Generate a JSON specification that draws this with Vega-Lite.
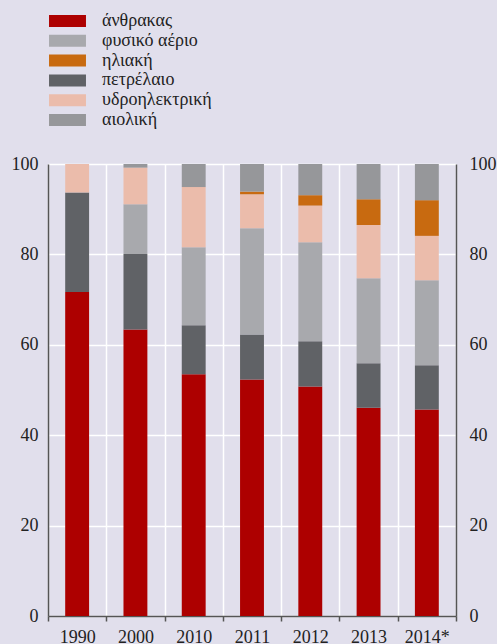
{
  "$schema": "https://vega.github.io/schema/vega-lite/v6.json",
  "width": 408,
  "height": 452,
  "autosize": {"type": "none"},
  "padding": {"left": 48, "top": 164, "right": 41, "bottom": 28},
  "background": "#e1dfec",
  "config": {"view": {"stroke": null}, "font": "Liberation Serif", "legend": {"labelFont": "Liberation Serif"}, "axis": {"labelFont": "Liberation Serif"}},
  "data": {
    "values": [
      {"year": "1990", "source": "άνθρακας", "ord": 1, "value": 71.7},
      {"year": "1990", "source": "πετρέλαιο", "ord": 2, "value": 22.0},
      {"year": "1990", "source": "φυσικό αέριο", "ord": 3, "value": 0},
      {"year": "1990", "source": "υδροηλεκτρική", "ord": 4, "value": 6.3},
      {"year": "1990", "source": "ηλιακή", "ord": 5, "value": 0},
      {"year": "1990", "source": "αιολική", "ord": 6, "value": 0},
      {"year": "2000", "source": "άνθρακας", "ord": 1, "value": 63.4},
      {"year": "2000", "source": "πετρέλαιο", "ord": 2, "value": 16.7},
      {"year": "2000", "source": "φυσικό αέριο", "ord": 3, "value": 11.0},
      {"year": "2000", "source": "υδροηλεκτρική", "ord": 4, "value": 8.1},
      {"year": "2000", "source": "ηλιακή", "ord": 5, "value": 0},
      {"year": "2000", "source": "αιολική", "ord": 6, "value": 0.8},
      {"year": "2010", "source": "άνθρακας", "ord": 1, "value": 53.5},
      {"year": "2010", "source": "πετρέλαιο", "ord": 2, "value": 10.8},
      {"year": "2010", "source": "φυσικό αέριο", "ord": 3, "value": 17.3},
      {"year": "2010", "source": "υδροηλεκτρική", "ord": 4, "value": 13.3},
      {"year": "2010", "source": "ηλιακή", "ord": 5, "value": 0},
      {"year": "2010", "source": "αιολική", "ord": 6, "value": 5.1},
      {"year": "2011", "source": "άνθρακας", "ord": 1, "value": 52.3},
      {"year": "2011", "source": "πετρέλαιο", "ord": 2, "value": 10.0},
      {"year": "2011", "source": "φυσικό αέριο", "ord": 3, "value": 23.5},
      {"year": "2011", "source": "υδροηλεκτρική", "ord": 4, "value": 7.5},
      {"year": "2011", "source": "ηλιακή", "ord": 5, "value": 0.6},
      {"year": "2011", "source": "αιολική", "ord": 6, "value": 6.1},
      {"year": "2012", "source": "άνθρακας", "ord": 1, "value": 50.8},
      {"year": "2012", "source": "πετρέλαιο", "ord": 2, "value": 10.0},
      {"year": "2012", "source": "φυσικό αέριο", "ord": 3, "value": 21.9},
      {"year": "2012", "source": "υδροηλεκτρική", "ord": 4, "value": 8.1},
      {"year": "2012", "source": "ηλιακή", "ord": 5, "value": 2.3},
      {"year": "2012", "source": "αιολική", "ord": 6, "value": 6.9},
      {"year": "2013", "source": "άνθρακας", "ord": 1, "value": 46.1},
      {"year": "2013", "source": "πετρέλαιο", "ord": 2, "value": 9.8},
      {"year": "2013", "source": "φυσικό αέριο", "ord": 3, "value": 18.8},
      {"year": "2013", "source": "υδροηλεκτρική", "ord": 4, "value": 11.8},
      {"year": "2013", "source": "ηλιακή", "ord": 5, "value": 5.7},
      {"year": "2013", "source": "αιολική", "ord": 6, "value": 7.8},
      {"year": "2014*", "source": "άνθρακας", "ord": 1, "value": 45.7},
      {"year": "2014*", "source": "πετρέλαιο", "ord": 2, "value": 9.8},
      {"year": "2014*", "source": "φυσικό αέριο", "ord": 3, "value": 18.8},
      {"year": "2014*", "source": "υδροηλεκτρική", "ord": 4, "value": 9.8},
      {"year": "2014*", "source": "ηλιακή", "ord": 5, "value": 7.9},
      {"year": "2014*", "source": "αιολική", "ord": 6, "value": 8.0}
    ]
  },
  "layer": [
    {
      "mark": {"type": "bar", "width": {"band": 0.41}},
      "encoding": {
        "x": {
          "field": "year",
          "type": "ordinal",
          "sort": null,
          "scale": {"paddingInner": 0, "paddingOuter": 0},
          "axis": {
            "title": null,
            "labelAngle": 0,
            "labelFontSize": 18,
            "labelColor": "#222",
            "labelPadding": 7,
            "tickBand": "extent",
            "tickSize": 5,
            "tickColor": "#555",
            "tickWidth": 1.5,
            "domainColor": "#555",
            "domainWidth": 1.5,
            "grid": true,
            "gridColor": "#ffffff",
            "gridWidth": 1.5,
            "gridOpacity": 1
          }
        },
        "y": {
          "field": "value",
          "type": "quantitative",
          "stack": "zero",
          "scale": {"domain": [0, 100], "nice": false},
          "axis": {
            "title": null,
            "orient": "left",
            "values": [0, 20, 40, 60, 80, 100],
            "labelFontSize": 18,
            "labelColor": "#222",
            "labelPadding": 10,
            "tickSize": 0,
            "domainColor": "#555",
            "domainWidth": 1.5,
            "grid": true,
            "gridColor": "#ffffff",
            "gridWidth": 1.5,
            "gridOpacity": 1
          }
        },
        "color": {
          "field": "source",
          "type": "nominal",
          "scale": {
            "domain": ["άνθρακας", "φυσικό αέριο", "ηλιακή", "πετρέλαιο", "υδροηλεκτρική", "αιολική"],
            "range": ["#ad0000", "#a8a9ad", "#c86a10", "#606266", "#ebbcab", "#96979a"]
          },
          "legend": {
            "title": null,
            "orient": "none",
            "legendX": 10.5,
            "legendY": -152,
            "padding": 0,
            "symbolType": "M-3.08,-1H3.08V1H-3.08Z",
            "symbolSize": 144,
            "symbolStrokeWidth": 0,
            "symbolOpacity": 1,
            "labelFont": "Liberation Serif",
            "labelFontSize": 18,
            "labelColor": "#222",
            "labelOffset": 25.5,
            "rowPadding": 1.8
          }
        },
        "order": {"field": "ord", "type": "quantitative"}
      }
    },
    {
      "mark": {"type": "tick", "opacity": 0},
      "encoding": {
        "y": {
          "field": "value",
          "type": "quantitative",
          "scale": {"domain": [0, 100], "nice": false},
          "axis": {
            "title": null,
            "orient": "right",
            "values": [0, 20, 40, 60, 80, 100],
            "labelFontSize": 18,
            "labelColor": "#222",
            "labelPadding": 13,
            "tickSize": 0,
            "domainColor": "#555",
            "domainWidth": 1.5,
            "grid": false
          }
        }
      }
    }
  ],
  "resolve": {"axis": {"y": "independent"}}
}
